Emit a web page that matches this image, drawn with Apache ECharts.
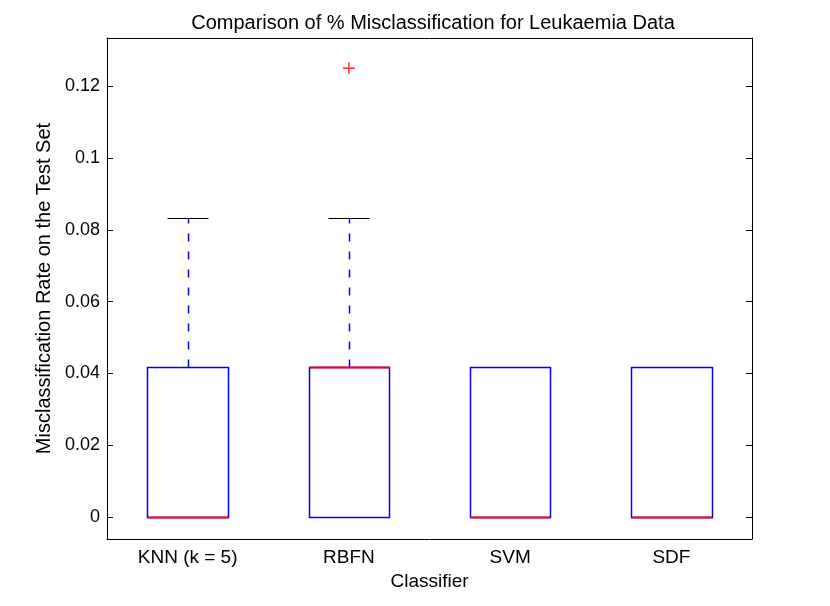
<!DOCTYPE html>
<html>
<head>
<meta charset="utf-8">
<script src="https://cdn.jsdelivr.net/npm/echarts@6/dist/echarts.min.js"></script>
<style>
html,body{margin:0;padding:0;background:#fff;}
#chart{width:830px;height:606px;}
</style>
</head>
<body>
<div id="chart"></div>
<script>
// ---- data ----
const categories = ['KNN (k = 5)', 'RBFN', 'SVM', 'SDF'];
const lowerWhisker = [0, 0, 0, 0];
const q1 = [0, 0, 0, 0];
const median = [0, 0.0417, 0, 0];
const q3 = [0.0417, 0.0417, 0.0417, 0.0417];
const upperWhisker = [0.0833, 0.0833, 0.0417, 0.0417];
const outlierCategory = [1];
const outlierValue = [0.125];
const yTicks = [0, 0.02, 0.04, 0.06, 0.08, 0.1, 0.12];
const yMin = -0.0061, yMax = 0.1334;

const FONT = "'Liberation Sans', Arial, Helvetica, sans-serif";
const boxData = categories.map((c, i) => [i, lowerWhisker[i], q1[i], median[i], q3[i], upperWhisker[i]]);
const outlierData = outlierCategory.map((c, i) => [c, outlierValue[i]]);

function px(v) { return Math.round(v) + 0.5; }

function renderItem(params, api) {
  const i = api.value(0);
  const lw = api.value(1), b1 = api.value(2), md = api.value(3), b3 = api.value(4), uw = api.value(5);
  const band = api.size([1, 0])[0];
  const cx = api.coord([i, 0])[0];
  const half = band * 0.25, capHalf = band * 0.127;
  const y = v => px(api.coord([i, v])[1]);
  const xl = px(cx - half), xr = px(cx + half), xc = px(cx);
  const children = [];
  const blue = '#0000ff', red = '#ff0000';
  const W = 1.5;
  if (uw > b3) {
    children.push({type: 'line', z2: 1, shape: {x1: xc, y1: y(b3), x2: xc, y2: y(uw)},
      style: {stroke: blue, fill: null, lineWidth: W, lineDash: [8, 10]}});
    children.push({type: 'line', z2: 2, shape: {x1: px(cx - capHalf), y1: y(uw), x2: px(cx + capHalf), y2: y(uw)},
      style: {stroke: '#000000', fill: null, lineWidth: 1.2}});
  }
  if (lw < b1) {
    children.push({type: 'line', z2: 1, shape: {x1: xc, y1: y(b1), x2: xc, y2: y(lw)},
      style: {stroke: blue, fill: null, lineWidth: W, lineDash: [8, 10]}});
    children.push({type: 'line', z2: 2, shape: {x1: px(cx - capHalf), y1: y(lw), x2: px(cx + capHalf), y2: y(lw)},
      style: {stroke: '#000000', fill: null, lineWidth: 1.2}});
  }
  children.push({type: 'rect', z2: 3, shape: {x: xl, y: y(b3), width: xr - xl, height: y(b1) - y(b3)},
    style: {stroke: blue, fill: 'rgba(0,0,0,0)', lineWidth: W}});
  children.push({type: 'line', z2: 4, shape: {x1: xl, y1: y(md), x2: xr, y2: y(md)},
    style: {stroke: red, fill: null, lineWidth: 2}});
  return {type: 'group', children: children};
}

const chart = echarts.init(document.getElementById('chart'));
const axisLineStyle = {color: '#000', width: 1};
chart.setOption({
  backgroundColor: '#fff',
  animation: false,
  textStyle: {fontFamily: FONT, color: '#000'},
  title: {
    text: 'Comparison of % Misclassification for Leukaemia Data',
    left: 428, top: 8, textAlign: 'center',
    textStyle: {fontFamily: FONT, fontSize: 20, fontWeight: 'normal', color: '#000'}
  },
  grid: {left: 107, right: 78, top: 38, bottom: 67},
  xAxis: [{
    type: 'category', data: categories, position: 'bottom',
    name: 'Classifier', nameLocation: 'middle', nameGap: 31,
    nameTextStyle: {fontFamily: FONT, fontSize: 19, color: '#000'},
    axisLine: {onZero: false, lineStyle: axisLineStyle},
    axisTick: {inside: true, alignWithLabel: true, length: 6, lineStyle: axisLineStyle},
    axisLabel: {fontFamily: FONT, fontSize: 19, color: '#000', margin: 9},
    splitLine: {show: false}
  }, {
    type: 'category', data: categories, position: 'top',
    axisLine: {onZero: false, lineStyle: axisLineStyle},
    axisTick: {inside: true, alignWithLabel: true, length: 6, lineStyle: axisLineStyle},
    axisLabel: {show: false},
    splitLine: {show: false}
  }],
  yAxis: [{
    type: 'value', min: yMin, max: yMax, position: 'left',
    name: 'Misclassification Rate on the Test Set', nameLocation: 'middle', nameGap: 36,
    nameTextStyle: {fontFamily: FONT, fontSize: 20, color: '#000'},
    axisLine: {show: true, onZero: false, lineStyle: axisLineStyle},
    axisTick: {show: true, inside: true, length: 6, lineStyle: axisLineStyle, customValues: yTicks},
    axisLabel: {fontFamily: FONT, fontSize: 18, color: '#000', margin: 7, customValues: yTicks,
      formatter: v => String(v)},
    splitLine: {show: false}
  }, {
    type: 'value', min: yMin, max: yMax, position: 'right',
    axisLine: {show: true, onZero: false, lineStyle: axisLineStyle},
    axisTick: {show: true, inside: true, length: 6, lineStyle: axisLineStyle, customValues: yTicks},
    axisLabel: {show: false},
    splitLine: {show: false}
  }],
  series: [{
    type: 'custom', xAxisIndex: 0, yAxisIndex: 0,
    renderItem: renderItem,
    encode: {x: 0, y: [1, 2, 3, 4, 5]},
    data: boxData,
    z: 5,
    clip: false
  }, {
    type: 'scatter', xAxisIndex: 0, yAxisIndex: 0,
    symbol: 'path://M0,4.4H10V5.6H0Z M4.4,0H5.6V10H4.4Z',
    symbolSize: 12,
    itemStyle: {color: '#ff0000'},
    z: 6,
    data: outlierData
  }]
});
</script>
</body>
</html>
